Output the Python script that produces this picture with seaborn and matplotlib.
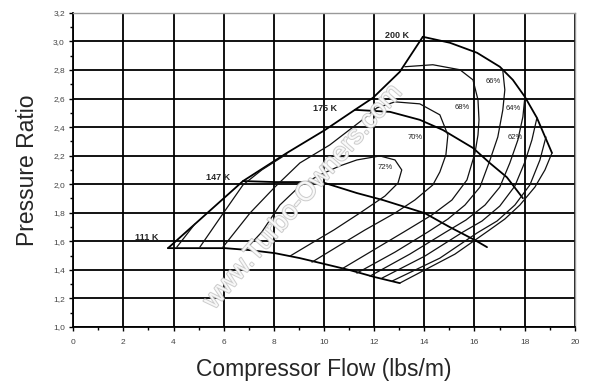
import matplotlib
matplotlib.use("Agg")
import matplotlib.pyplot as plt
import matplotlib.patheffects as pe
from matplotlib.ticker import MultipleLocator, FuncFormatter
import seaborn as sns

sns.set_style("white")
plt.rcParams['font.family'] = ['Liberation Sans', 'DejaVu Sans']

# ---- surge boundary ----
surge_x = [3.78, 6.77, 8.52, 10.04, 11.23, 11.95, 13.02, 13.94]
surge_y = [1.552, 2.022, 2.219, 2.380, 2.521, 2.605, 2.787, 3.033]

# ---- speed lines ----
k111_x = [3.78, 6.05, 7.05, 8.04, 9.04, 10.04, 11.03, 12.03, 13.02]
k111_y = [1.552, 1.552, 1.538, 1.517, 1.482, 1.440, 1.398, 1.349, 1.307]
k147_x = [6.77, 8.05, 9.04, 10.04, 11.31, 12.35, 14.02, 15.02, 16.02, 16.50]
k147_y = [2.022, 2.015, 2.015, 2.008, 1.938, 1.889, 1.797, 1.699, 1.608, 1.559]
k175_x = [11.23, 12.63, 13.82, 14.74, 15.94, 16.62, 17.29, 17.93]
k175_y = [2.521, 2.507, 2.451, 2.380, 2.254, 2.147, 2.049, 1.902]
k200_x = [13.94, 15.02, 16.10, 17.01, 17.53, 18.01, 18.49, 19.09]
k200_y = [3.033, 2.991, 2.921, 2.823, 2.731, 2.612, 2.465, 2.219]

speed_labels = ["111 K", "147 K", "175 K", "200 K"]
speed_lab_x = [2.95, 5.77, 10.04, 12.90]
speed_lab_y = [1.63, 2.05, 2.53, 3.04]

# ---- efficiency contours ----
e72_x = [6.85, 7.52, 8.24, 9.04, 9.83, 10.63, 11.31, 12.23, 12.83, 13.10, 12.95, 12.43, 11.43, 10.39, 9.44, 8.64]
e72_y = [1.538, 1.665, 1.854, 1.988, 2.065, 2.128, 2.170, 2.198, 2.170, 2.100, 2.008, 1.917, 1.798, 1.679, 1.580, 1.496]
e70_x = [5.97, 7.05, 8.04, 9.04, 10.23, 11.43, 12.11, 12.83, 13.82, 14.62, 14.94, 14.86, 14.62, 14.34, 13.62, 12.83, 11.63, 10.63, 9.52]
e70_y = [1.559, 1.798, 1.980, 2.149, 2.275, 2.437, 2.535, 2.577, 2.563, 2.486, 2.345, 2.205, 2.086, 1.995, 1.889, 1.798, 1.679, 1.573, 1.454]
e68a_x = [5.05, 5.85, 6.77, 7.52, 8.52]
e68a_y = [1.559, 1.763, 1.995, 2.100, 2.212]
e68b_x = [13.22, 14.34, 15.42, 15.94, 16.14, 16.18, 16.14, 16.02, 15.70, 15.10, 14.30, 13.18, 11.91, 10.63]
e68b_y = [2.823, 2.837, 2.802, 2.731, 2.591, 2.451, 2.345, 2.219, 2.030, 1.889, 1.784, 1.665, 1.532, 1.398]
e66a_x = [4.13, 4.85]
e66a_y = [1.559, 1.721]
e66b_x = [17.13, 17.21, 17.13, 16.93, 16.62, 16.22, 15.62, 14.94, 14.14, 12.83, 11.31]
e66b_y = [2.795, 2.661, 2.521, 2.331, 2.170, 1.980, 1.854, 1.756, 1.665, 1.524, 1.377]
e64_x = [18.01, 17.93, 17.73, 17.41, 17.01, 16.42, 15.66, 14.86, 13.42, 11.83]
e64_y = [2.612, 2.472, 2.310, 2.149, 1.980, 1.854, 1.749, 1.665, 1.510, 1.356]
e62_x = [18.49, 18.29, 18.01, 17.61, 17.01, 16.30, 15.54, 14.02, 12.31]
e62_y = [2.465, 2.310, 2.156, 1.987, 1.847, 1.742, 1.665, 1.496, 1.342]
e60_x = [18.85, 18.61, 18.21, 17.61, 16.90, 16.10, 14.62, 12.71]
e60_y = [2.331, 2.170, 1.995, 1.854, 1.742, 1.658, 1.482, 1.321]
e58_x = [19.09, 18.81, 18.41, 17.81, 17.21, 16.54, 15.22, 13.02]
e58_y = [2.219, 2.100, 1.980, 1.854, 1.756, 1.672, 1.510, 1.307]

eff_labels = ["72%", "70%", "68%", "66%", "64%", "62%"]
eff_lab_x = [12.43, 13.62, 15.50, 16.73, 17.53, 17.61]
eff_lab_y = [2.115, 2.330, 2.540, 2.720, 2.530, 2.330]

x_ticks = [0, 2, 4, 6, 8, 10, 12, 14, 16, 18, 20]
y_ticks = [1.0, 1.2, 1.4, 1.6, 1.8, 2.0, 2.2, 2.4, 2.6, 2.8, 3.0, 3.2]

fig = plt.figure(figsize=(6.0, 3.92), dpi=100)
ax = fig.add_axes([0.122, 0.166, 0.836, 0.801])

speed_curves = [(surge_x, surge_y), (k111_x, k111_y), (k147_x, k147_y),
                (k175_x, k175_y), (k200_x, k200_y)]
eff_curves = [(e72_x, e72_y), (e70_x, e70_y), (e68a_x, e68a_y), (e68b_x, e68b_y),
              (e66a_x, e66a_y), (e66b_x, e66b_y), (e64_x, e64_y), (e62_x, e62_y),
              (e60_x, e60_y), (e58_x, e58_y)]
for cx, cy in speed_curves:
    sns.lineplot(x=cx, y=cy, sort=False, estimator=None, color="black", lw=1.3, ax=ax, zorder=3)
for cx, cy in eff_curves:
    sns.lineplot(x=cx, y=cy, sort=False, estimator=None, color="#111111", lw=0.9, ax=ax, zorder=3)

for t, x, y in zip(speed_labels, speed_lab_x, speed_lab_y):
    ax.text(x, y, t, fontsize=6.5, fontweight="bold", ha="center", va="center", zorder=4)
for t, x, y in zip(eff_labels, eff_lab_x, eff_lab_y):
    ax.text(x, y, t, fontsize=5.5, ha="center", va="center", color="#222222", zorder=4)

ax.text(9.16, 1.91, "www.Turbo-Owners.com", fontsize=19, rotation=49, ha="center", va="center",
        color="white", alpha=0.85, zorder=5,
        path_effects=[pe.withStroke(linewidth=1.4, foreground="#c4c4c4")])

ax.set_xlim(0, 20)
ax.set_ylim(1.0, 3.2)
ax.set_xticks(x_ticks)
ax.set_yticks(y_ticks)
ax.xaxis.set_minor_locator(MultipleLocator(1))
ax.yaxis.set_minor_locator(MultipleLocator(0.1))
ax.yaxis.set_major_formatter(FuncFormatter(lambda v, p: f"{v:.1f}".replace(".", ",")))
ax.xaxis.set_major_formatter(FuncFormatter(lambda v, p: f"{v:.0f}"))
ax.grid(True, which="major", color="black", lw=1.3)
ax.tick_params(axis="both", which="major", labelsize=6, labelcolor="#444444", length=3, width=1, direction="out", color="black")
ax.tick_params(axis="both", which="minor", length=2, width=1, direction="out", color="black")
ax.tick_params(axis="x", which="both", bottom=True, pad=6)
ax.tick_params(axis="y", which="both", left=True, pad=3)
for s in ["left", "bottom"]:
    ax.spines[s].set_color("black")
    ax.spines[s].set_linewidth(1.3)
for s in ["top", "right"]:
    ax.spines[s].set_color("#999999")
    ax.spines[s].set_linewidth(1.0)

ax.set_xlabel("Compressor Flow (lbs/m)", fontsize=16.5, labelpad=8)
ax.set_ylabel("Pressure Ratio", fontsize=16.5, labelpad=10)

fig.savefig("out.png", dpi=100)
